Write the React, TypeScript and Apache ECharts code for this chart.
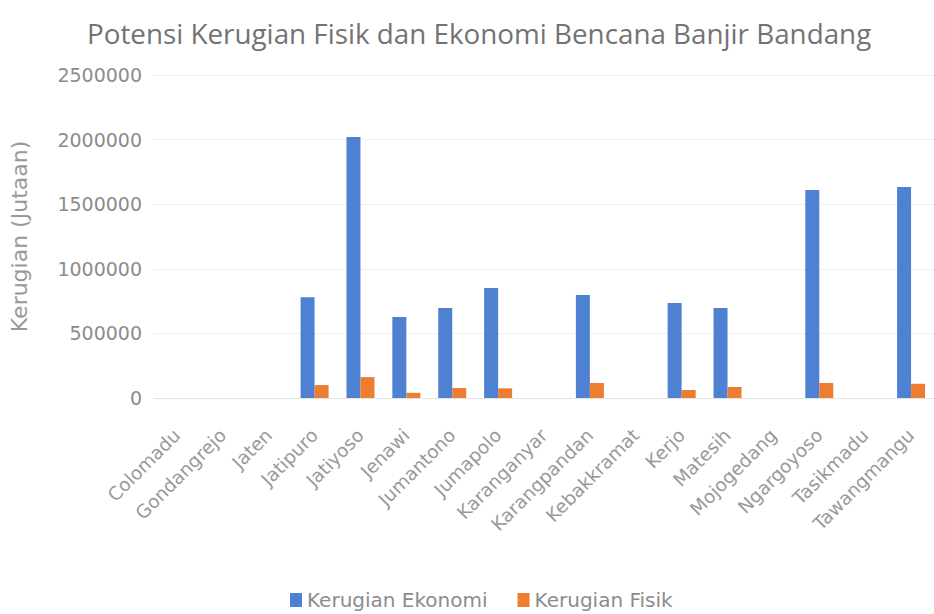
import React, { useEffect, useRef } from "react";
import * as echarts from "echarts";

const categories = [
  "Colomadu", "Gondangrejo", "Jaten", "Jatipuro", "Jatiyoso", "Jenawi",
  "Jumantono", "Jumapolo", "Karanganyar", "Karangpandan", "Kebakkramat",
  "Kerjo", "Matesih", "Mojogedang", "Ngargoyoso", "Tasikmadu", "Tawangmangu",
];
const kerugianEkonomi = [
  0, 0, 0, 780000, 2020000, 627000, 697000, 851000, 0, 797000, 0,
  735000, 697000, 0, 1610000, 0, 1633000,
];
const kerugianFisik = [
  0, 0, 0, 100000, 162000, 40000, 77000, 75000, 0, 116000, 0,
  62000, 85000, 0, 116000, 0, 110000,
];
const titleText = "Potensi Kerugian Fisik dan Ekonomi Bencana Banjir Bandang";
const yAxisName = "Kerugian (Jutaan)";
const seriesNames = ["Kerugian Ekonomi", "Kerugian Fisik"];

const FONT = "'DejaVu Sans', sans-serif";
const TITLE_FONT = "'Open Sans', sans-serif";

export default function App() {
  const ref = useRef<HTMLDivElement>(null);
  useEffect(() => {
    if (!ref.current) return;
    const chart = echarts.init(ref.current, null, { renderer: "svg" });
    chart.setOption({
      animation: false,
      backgroundColor: "#ffffff",
      title: {
        text: titleText,
        left: 82,
        top: 14,
        textStyle: { fontFamily: TITLE_FONT, fontSize: 27.8, fontWeight: "normal", color: "#737373" },
      },
      legend: {
        top: 585,
        left: 285,
        itemWidth: 12,
        itemHeight: 14,
        itemGap: 30,
        icon: "rect",
        textStyle: { fontFamily: FONT, fontSize: 20, color: "#8c8c8c" },
        data: seriesNames,
      },
      grid: { left: 149, right: -2, top: 75, bottom: 216, containLabel: false },
      xAxis: {
        type: "category",
        data: categories,
        axisLine: { show: true, lineStyle: { color: "#e3e3e3" } },
        axisTick: { show: false },
        axisLabel: {
          interval: 0,
          rotate: 45,
          margin: 34,
          fontFamily: FONT,
          fontSize: 18.5,
          color: "#999999",
        },
      },
      yAxis: {
        type: "value",
        min: 0,
        max: 2500000,
        interval: 500000,
        name: yAxisName,
        nameLocation: "middle",
        nameGap: 124,
        nameTextStyle: { fontFamily: FONT, fontSize: 22, color: "#999999" },
        axisLine: { show: false },
        axisTick: { show: false },
        axisLabel: {
          fontFamily: FONT,
          fontSize: 19,
          color: "#8c8c8c",
          margin: 12,
          formatter: (v: number) => String(v),
        },
        splitLine: { lineStyle: { color: "#efefef" } },
      },
      series: [
        {
          name: seriesNames[0],
          type: "bar",
          data: kerugianEkonomi,
          barWidth: 14,
          itemStyle: { color: "#4f81d3" },
        },
        {
          name: seriesNames[1],
          type: "bar",
          data: kerugianFisik,
          barWidth: 14,
          barGap: "0%",
          itemStyle: { color: "#ed7d31" },
        },
      ],
    });
    return () => chart.dispose();
  }, []);
  return (
    <div
      ref={ref}
      style={{ position: "absolute", left: 0, top: 0, width: 934, height: 614 }}
    />
  );
}
